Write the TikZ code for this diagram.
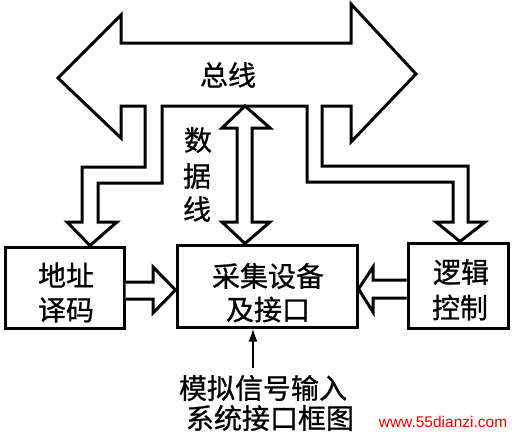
\documentclass[tikz,border=0pt]{standalone}
\usepackage{fontspec}
\setmainfont{Noto Sans CJK SC}[FakeBold=0.8]
\newfontfamily\wmfont{Liberation Sans}
\usetikzlibrary{arrows.meta}
\begin{document}
\begin{tikzpicture}[x=1pt,y=-1pt,
  blk/.style={draw,line width=3pt,fill=white,line join=miter},
  boxn/.style={draw,line width=3pt,inner sep=0pt},
  lbl/.style={inner sep=0pt,font=\fontsize{28}{34}\selectfont}]
\useasboundingbox (0,0) rectangle (512,434);
% boxes
\node[boxn,minimum width=119pt,minimum height=81pt] (addr) at (64.5,287.5) {};
\node[boxn,minimum width=180pt,minimum height=82pt] (acq) at (267,286) {};
\node[boxn,minimum width=100pt,minimum height=85pt] (logic) at (458,285.5) {};
\node[lbl] (addr1) at (66,275) {地址};
\node[lbl] (addr2) at (66,310) {译码};
\node[lbl] (acq1) at (268,276) {采集设备};
\node[lbl] (acq2) at (268,309.5) {及接口};
\node[lbl] (log1) at (461,272) {逻辑};
\node[lbl] (log2) at (460,307.5) {控制};
% bus with branches
\draw[blk] (58,78) -- (121,15) -- (121,43) -- (351,43) -- (351,4) -- (416,74)
  -- (351,142) -- (351,106) -- (322,106) -- (322,166) -- (468,166) -- (468,222)
  -- (485,222) -- (460,0 |- logic.north) -- (436,222) -- (453,222) -- (453,182)
  -- (307,182) -- (307,106) -- (162,106) -- (162,183) -- (98,183) -- (98,222)
  -- (117,222) -- (90,0 |- addr.north) -- (67,222) -- (82,222) -- (82,167) -- (145,167)
  -- (145,106) -- (121,106) -- (121,138) -- cycle;
\node[lbl] (bus) at (228,75) {总线};
% data line
\coordinate (dtop) at (245,106);
\draw[blk] (dtop) -- (270,128) -- (252,128) -- (252,222) -- (270,222)
  -- (245,0 |- acq.north) -- (222,222) -- (237,222) -- (237,128) -- (222,128) -- cycle;
\node[lbl] (dl1) at (198,140) {数};
\node[lbl] (dl2) at (197,176) {据};
\node[lbl] (dl3) at (197,209) {线};
% horizontal block arrows
\draw[blk] (addr.east |- 0,282) -- (153,282) -- (153,267) -- (acq.west |- 0,290)
  -- (153,313) -- (153,299) -- (addr.east |- 0,299);
\draw[blk] (logic.west |- 0,280) -- (373,280) -- (373,267) -- (acq.east |- 0,289)
  -- (373,312) -- (373,298) -- (logic.west |- 0,298);
% input text and arrow
\node[lbl] (in) at (263,388) {模拟信号输入};
\node[lbl] (cap) at (270,418) {系统接口框图};
\coordinate (instart) at (253,368);
\draw[line width=2pt,-{Latex[length=13pt,width=9pt]}] (instart) -- (instart |- acq.south);
% watermark
\node[inner sep=0pt,text=red!90!black,font=\wmfont\fontsize{15.5}{18}\selectfont] (wm) at (443,422) {www.55dianzi.com};
\end{tikzpicture}
\end{document}
